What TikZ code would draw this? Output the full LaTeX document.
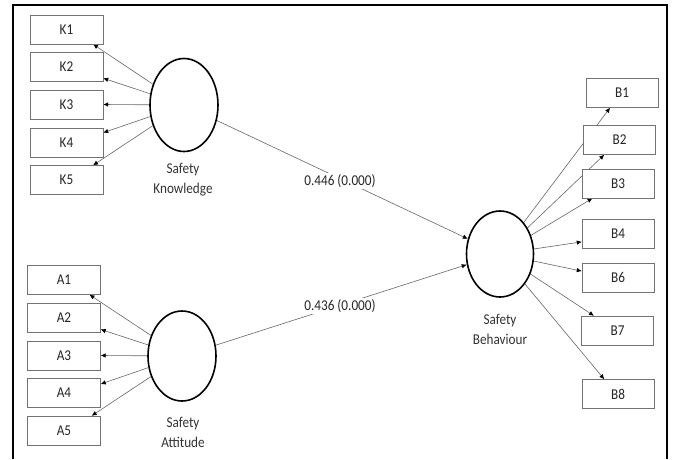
\documentclass[tikz,border=0pt]{standalone}
\usepackage{fontspec}
\setmainfont{Carlito}[FakeStretch=0.88]
\usetikzlibrary{arrows.meta, shapes, backgrounds, positioning}
\tikzstyle{indicator} = [rectangle, draw=black!55, fill=white, minimum width=73pt, minimum height=29pt,
                         inner sep=0pt, text=black!85, font=\fontsize{15}{16}\selectfont]
\tikzstyle{construct} = [ellipse, draw=black, line width=1.6pt, minimum width=68pt, minimum height=93pt, inner sep=0pt]
\tikzstyle{caption} = [align=center, text=black!80, font=\fontsize{15}{20}\selectfont]
\tikzstyle{coef} = [fill=white, inner sep=1pt, text=black!85, font=\fontsize{15}{16}\selectfont]
\tikzstyle{load} = [draw=black!60, line width=0.6pt, -{Latex[length=5pt, width=4.5pt, black]}]

\begin{document}
\begin{tikzpicture}[x=1pt, y=-1pt]
				\useasboundingbox (0, 0) rectangle (675, 459);
				\draw[line width=1.6pt] (13, 459) -- (13, 5) -- (667, 5) -- (667, 459);

				% knowledge
				\node (Know) [construct] at (184, 105) {};
				\node (KnowText) [caption] at (183, 180) {Safety\\Knowledge};
				\node (K1) [indicator] at (66.5, 29.5) {K1};
				\node (K2) [indicator] at (66.5, 67) {K2};
				\node (K3) [indicator] at (66.5, 104.5) {K3};
				\node (K4) [indicator] at (66.5, 142.5) {K4};
				\node (K5) [indicator] at (66.5, 180) {K5};

				% attitude
				\node (Att) [construct, minimum height=90pt] at (182, 356) {};
				\node (AttText) [caption] at (183, 432) {Safety\\Attitude};
				\node (A1) [indicator] at (64, 280) {A1};
				\node (A2) [indicator] at (64, 317.5) {A2};
				\node (A3) [indicator] at (64, 355.5) {A3};
				\node (A4) [indicator] at (64, 392.5) {A4};
				\node (A5) [indicator] at (64, 430.5) {A5};

				% behaviour
				\node (Beh) [construct, minimum width=67pt, minimum height=86pt] at (500, 254) {};
				\node (BehText) [caption] at (500, 329) {Safety\\Behaviour};
				\node (B1) [indicator, minimum width=72pt] at (622, 93) {B1};
				\node (B2) [indicator, minimum width=72pt] at (619.5, 140) {B2};
				\node (B3) [indicator, minimum width=72pt] at (618, 183.5) {B3};
				\node (B4) [indicator, minimum width=72pt] at (618, 233.5) {B4};
				\node (B6) [indicator, minimum width=72pt] at (618, 277.5) {B6};
				\node (B7) [indicator, minimum width=72pt] at (617.5, 330.5) {B7};
				\node (B8) [indicator, minimum width=72pt] at (618, 394) {B8};

				% path coefficients
				\node (CoefKB) [coef] at (340, 181) {0.446 (0.000)};
				\node (CoefAB) [coef] at (340, 306) {0.436 (0.000)};

				\begin{scope}[on background layer]
					\draw[load] (Know) -- (K1.331);
					\draw[load] (Know) -- (K2.343);
					\draw[load] (Know) -- (K3.east);
					\draw[load] (Know) -- (K4.15);
					\draw[load] (Know) -- (K5.29);

					\draw[load] (Att) -- (A1.330);
					\draw[load] (Att) -- (A2.342);
					\draw[load] (Att) -- (A3.east);
					\draw[load] (Att) -- (A4.13);
					\draw[load] (Att) -- (A5.28);

					\draw[load] (Beh) -- (B1.231);
					\draw[load] (Beh) -- (B2.224);
					\draw[load] (Beh) -- (B3.210);
					\draw[load] (Beh) -- (B4.193);
					\draw[load] (Beh) -- (B6.170);
					\draw[load] (Beh) -- (B7.148);
					\draw[load] (Beh) -- (B8.133);

					\draw[load] (Know) -- (Beh);
					\draw[load] (Att) -- (Beh);
				\end{scope}
\end{tikzpicture}
\end{document}
